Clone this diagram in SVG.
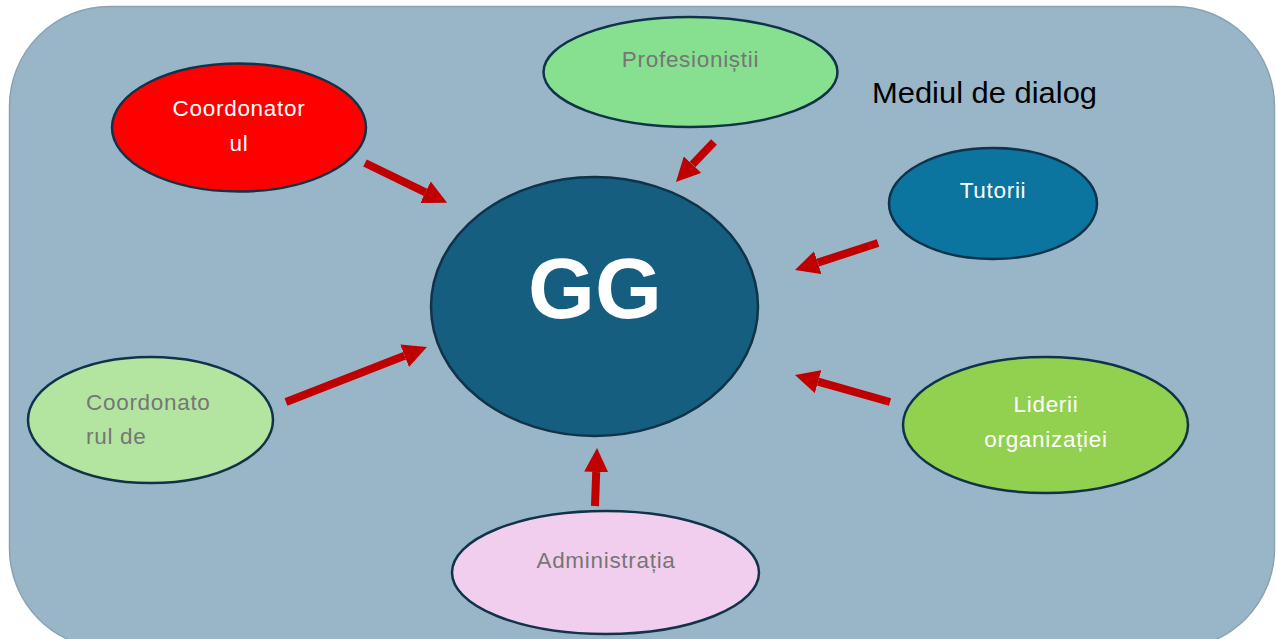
<svg xmlns="http://www.w3.org/2000/svg" width="1277" height="639" viewBox="0 0 1277 639">
<style>
.node{stroke:#10334A;stroke-width:2.5}
.t{font-family:"Liberation Sans","Open Sans",Arial,sans-serif;font-size:22.5px;letter-spacing:0.7px;text-anchor:middle}
.w{fill:#FFFFFF}
.g{fill:#767676}
.conn{stroke:#C00000;stroke-width:8;fill:none;marker-end:url(#ah)}
</style>
<defs>
<marker id="ah" viewBox="0 0 10 10" refX="0" refY="5" markerWidth="3" markerHeight="3" orient="auto" markerUnits="strokeWidth">
<path d="M0,0 L10,5 L0,10 z" fill="#C00000"/>
</marker>
</defs>
<rect id="background" x="9.5" y="6.5" width="1265" height="642" rx="100" ry="100" fill="#98B6C8" stroke="#8AA3B3" stroke-width="1.5"/>
<text id="title" x="872" y="103" font-family="Liberation Sans,Open Sans,Arial,sans-serif" font-size="29" textLength="225" lengthAdjust="spacingAndGlyphs" fill="#000000">Mediul de dialog</text>
<g id="connectors">
<line class="conn" x1="365" y1="163" x2="425.5" y2="192.3"/>
<line class="conn" x1="714" y1="142" x2="692.5" y2="164.6"/>
<line class="conn" x1="878" y1="243" x2="817.8" y2="262.6"/>
<line class="conn" x1="286" y1="402" x2="404.6" y2="355.7"/>
<line class="conn" x1="890" y1="402" x2="818.1" y2="381.6"/>
<line class="conn" x1="595" y1="506" x2="596.2" y2="472"/>
</g>
<g id="node-gg">
<ellipse class="node" cx="594.5" cy="306.5" rx="163.5" ry="129.5" fill="#155E7F"/>
<text x="595" y="318" font-family="Liberation Sans,Arial,sans-serif" font-size="86" font-weight="bold" fill="#FFFFFF" text-anchor="middle">GG</text>
</g>
<g id="node-coordonatorul">
<ellipse class="node" cx="239" cy="127.5" rx="127" ry="64" fill="#FF0000"/>
<text class="t w" x="239" y="116">Coordonator</text>
<text class="t w" x="239" y="151">ul</text>
</g>
<g id="node-profesionistii">
<ellipse class="node" cx="690.5" cy="72" rx="147" ry="55" fill="#86E08F"/>
<text class="t g" x="690.5" y="67">Profesioniștii</text>
</g>
<g id="node-tutorii">
<ellipse class="node" cx="993" cy="203.5" rx="104" ry="55.5" fill="#0B75A0"/>
<text class="t w" x="993" y="198">Tutorii</text>
</g>
<g id="node-coordonatorul-de">
<ellipse class="node" cx="150.5" cy="420" rx="122.5" ry="63" fill="#B3E5A1"/>
<text class="t g" x="86" y="410" style="text-anchor:start">Coordonato</text>
<text class="t g" x="86" y="444" style="text-anchor:start">rul de</text>
</g>
<g id="node-liderii">
<ellipse class="node" cx="1045.5" cy="425" rx="142.5" ry="68" fill="#92D050"/>
<text class="t w" x="1046" y="412">Liderii</text>
<text class="t w" x="1046" y="447">organizației</text>
</g>
<g id="node-administratia">
<ellipse class="node" cx="605.5" cy="572.5" rx="153.5" ry="61.5" fill="#F2CEEE"/>
<text class="t g" x="606" y="568">Administrația</text>
</g>
</svg>
